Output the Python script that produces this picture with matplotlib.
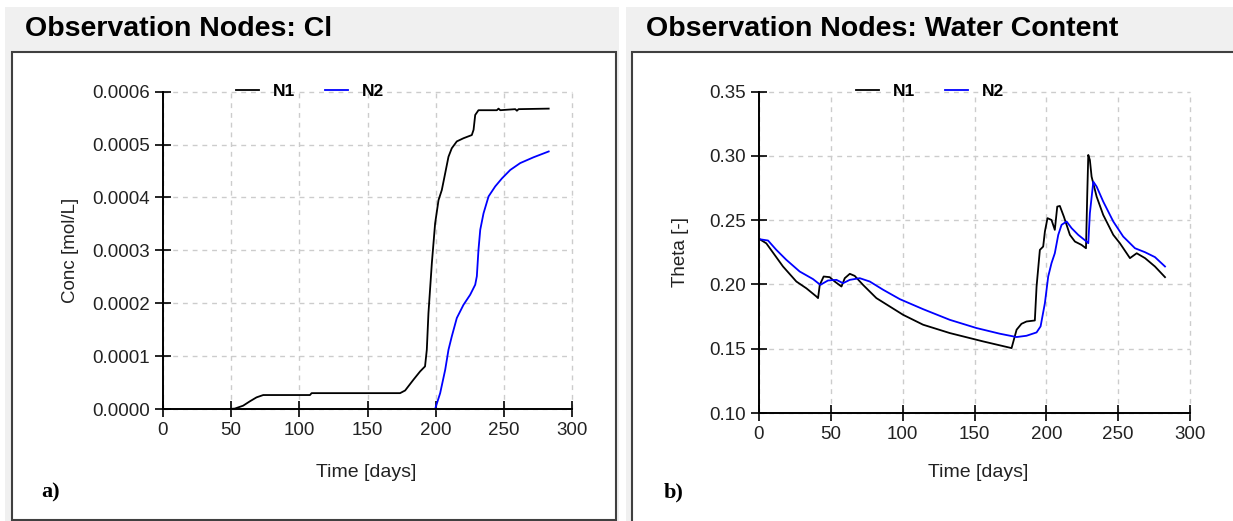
import numpy as np
import matplotlib
matplotlib.use("Agg")
import matplotlib.pyplot as plt
from matplotlib.patches import Rectangle
from matplotlib.ticker import FormatStrFormatter

# data
cl_n1_t = [49, 52.7, 58.8, 63.7, 68.6, 73.5, 107.8, 109, 173.9, 177.6, 183.7, 188.6,
           192.2, 193.5, 194.7, 197.2, 199.6, 202.1, 204.5, 207, 209.4, 211.8, 215.5,
           220.4, 226.5, 227.8, 229, 231.4, 244.9, 246.1, 247.4, 258.4, 259.6, 260.8, 282.9]
cl_n1_c = [0.0, 0.0000008, 0.0000063, 0.0000145, 0.000022, 0.0000264, 0.0000264, 0.00003,
           0.00003, 0.000035, 0.0000554, 0.0000711, 0.0000806, 0.000112, 0.000181, 0.000276,
           0.000351, 0.000395, 0.000414, 0.000446, 0.000477, 0.000493, 0.000506, 0.000512,
           0.000518, 0.000528, 0.000556, 0.000565, 0.000565, 0.000568, 0.000565, 0.000567,
           0.000564, 0.000567, 0.000568]
cl_n2_t = [199.6, 203.3, 207, 209.4, 211.8, 215.5, 220.4, 225.3, 229, 230.2, 231.4, 232.7,
           235.1, 238.8, 243.7, 248.6, 254.7, 262, 271.8, 282.9]
cl_n2_c = [0.0, 0.00003, 0.0000743, 0.000112, 0.000137, 0.000172, 0.000197, 0.000216,
           0.000235, 0.000251, 0.000301, 0.000339, 0.00037, 0.000402, 0.000421, 0.000436,
           0.000452, 0.000465, 0.000476, 0.000487]

wc_n1_t = [0.5, 5.1, 10.9, 16.7, 26, 33, 39.9, 41.1, 42.3, 45, 49.2, 52.7, 57.4, 59.7, 63.2,
           66.6, 72.4, 81.7, 91, 100.3, 114.2, 132.8, 156, 175.8, 179.3, 182.7, 186.2, 192,
           193.2, 195.5, 197.8, 199, 200.8, 203.6, 205.9, 207.6, 209.4, 212.2, 216.4, 219.9,
           224.5, 227.6, 228.5, 229.2, 230.3, 231.5, 235, 239.6, 246.6, 251.2, 258.2, 262.9,
           268.7, 275.6, 282.6]
wc_n1_th = [0.2352, 0.232, 0.223, 0.214, 0.2023, 0.197, 0.1907, 0.1894, 0.1997, 0.2062,
            0.2057, 0.2023, 0.1984, 0.2049, 0.2083, 0.2067, 0.1997, 0.1894, 0.1829, 0.1764,
            0.1687, 0.1622, 0.1557, 0.1505, 0.1648, 0.1694, 0.1712, 0.172, 0.1984, 0.2269,
            0.2295, 0.2412, 0.2516, 0.2502, 0.2425, 0.2606, 0.2611, 0.2528, 0.2386, 0.2334,
            0.2308, 0.2282, 0.271, 0.3008, 0.2969, 0.2839, 0.2684, 0.2541, 0.2386, 0.2321,
            0.2205, 0.2243, 0.2205, 0.214, 0.2057]
wc_n2_t = [0.5, 6.3, 12, 19, 28.3, 37.6, 42.7, 48, 53.9, 58.5, 63.2, 70.1, 77.1, 86.4, 98,
           114.2, 132.8, 151.4, 167.6, 179.3, 186.2, 193.2, 196, 199, 201.3, 203.6, 205.9,
           208.3, 210.6, 214.1, 217.6, 222.2, 228, 229.2, 230.3, 232.7, 235, 239.6, 246.6,
           253.5, 261.7, 268.7, 275.6, 282.6]
wc_n2_th = [0.2352, 0.2342, 0.227, 0.2192, 0.2101, 0.2042, 0.1997, 0.2031, 0.2036, 0.201,
            0.2036, 0.2049, 0.2023, 0.1959, 0.1886, 0.1808, 0.1725, 0.1661, 0.1617, 0.1591,
            0.1601, 0.1627, 0.1674, 0.1855, 0.2062, 0.2166, 0.2243, 0.2386, 0.2464, 0.249,
            0.2438, 0.2386, 0.2334, 0.2321, 0.2554, 0.28, 0.2762, 0.2645, 0.249, 0.2373,
            0.2282, 0.2251, 0.2213, 0.214]

W, H = 1233, 521
FONT = "Liberation Sans"
TXT = "#222222"

fig = plt.figure(figsize=(W / 100, H / 100), dpi=100)
fig.patch.set_facecolor("white")


def box(x0, y0, x1, y1):
    # pixel box (top-left origin) -> figure fraction
    return (x0 / W, 1 - y1 / H), (x1 - x0) / W, (y1 - y0) / H


def panel(gx0, gx1, bx0, bx1, bottom, title, tx, letter, lx):
    xy, w, h = box(gx0, 7, gx1, 530)
    fig.add_artist(Rectangle(xy, w, h, transform=fig.transFigure,
                             facecolor="#f0f0f0", edgecolor="none", zorder=-3))
    xy, w, h = box(bx0, 52, bx1, bottom)
    fig.add_artist(Rectangle(xy, w, h, transform=fig.transFigure,
                             facecolor="white", edgecolor="#404040", lw=1.5, zorder=-2))
    fig.text(tx / W, 1 - 29 / H, title, fontsize=20.5, fontweight="bold",
             family=FONT, va="center", ha="left")
    fig.text(lx / W, 1 - 492 / H, letter, fontsize=16, fontweight="bold",
             family="Liberation Serif", va="center", ha="left")


panel(5, 619, 12, 616, 520, "Observation Nodes: Cl", 25, "a)", 41)
panel(626, 1240, 632, 1240, 540, "Observation Nodes: Water Content", 646, "b)", 664)


def style(ax, ylim, yticks, fmt):
    ax.set_xlim(0, 300)
    ax.set_ylim(*ylim)
    ax.set_xticks(np.arange(0, 301, 50))
    ax.set_yticks(yticks)
    ax.yaxis.set_major_formatter(FormatStrFormatter(fmt))
    ax.patch.set_alpha(0)
    for s in ["top", "right"]:
        ax.spines[s].set_visible(False)
    for s in ["left", "bottom"]:
        ax.spines[s].set_linewidth(1.4)
        ax.spines[s].set_color("black")
    ax.tick_params(direction="inout", length=11, width=1.2, pad=4,
                   labelsize=13.5, labelcolor=TXT)
    for lab in ax.get_xticklabels() + ax.get_yticklabels():
        lab.set_family(FONT)
    ax.grid(True, color="#cccccc", linestyle=(0, (3.5, 3.5)), linewidth=1)
    ax.set_axisbelow(True)
    for gl in ax.get_xgridlines() + ax.get_ygridlines():
        gl.set_clip_on(False)


def labels(ax, xlab, ylab, xpos, ypos):
    ax.set_xlabel(xlab, family=FONT, fontsize=14, color=TXT)
    ax.set_ylabel(ylab, family=FONT, fontsize=13.5, color=TXT)
    ax.xaxis.set_label_coords(*xpos)
    ax.xaxis.label.set_va("center")
    ax.yaxis.set_label_coords(*ypos)
    ax.yaxis.label.set_va("center")


def legend(ax, xc):
    ax.legend(loc="center", bbox_to_anchor=(xc, 1.0), ncol=2, frameon=False,
              handlelength=1.35, handletextpad=0.8, columnspacing=1.7,
              prop={"family": FONT, "weight": "bold", "size": 12.5})


# a) chloride concentration
xy, w, h = box(163, 91.7, 572, 409)
ax1 = fig.add_axes([xy[0], xy[1], w, h])
ax1.plot(cl_n1_t, cl_n1_c, color="black", lw=1.3, label="N1")
ax1.plot(cl_n2_t, cl_n2_c, color="#0000ff", lw=1.3, label="N2")
style(ax1, (0, 0.0006), np.arange(0, 0.00061, 0.0001), "%.4f")
labels(ax1, "Time [days]", "Conc [mol/L]", (0.497, -0.199), (-0.225, 0.5))
legend(ax1, 0.36)

# b) water content
xy, w, h = box(759, 91.7, 1190, 413)
ax2 = fig.add_axes([xy[0], xy[1], w, h])
ax2.plot(wc_n1_t, wc_n1_th, color="black", lw=1.3, label="N1")
ax2.plot(wc_n2_t, wc_n2_th, color="#0000ff", lw=1.3, label="N2")
style(ax2, (0.10, 0.35), np.arange(0.10, 0.351, 0.05), "%.2f")
labels(ax2, "Time [days]", "Theta [-]", (0.508, -0.184), (-0.183, 0.5))
legend(ax2, 0.397)

fig.savefig("out.png", dpi=100)
